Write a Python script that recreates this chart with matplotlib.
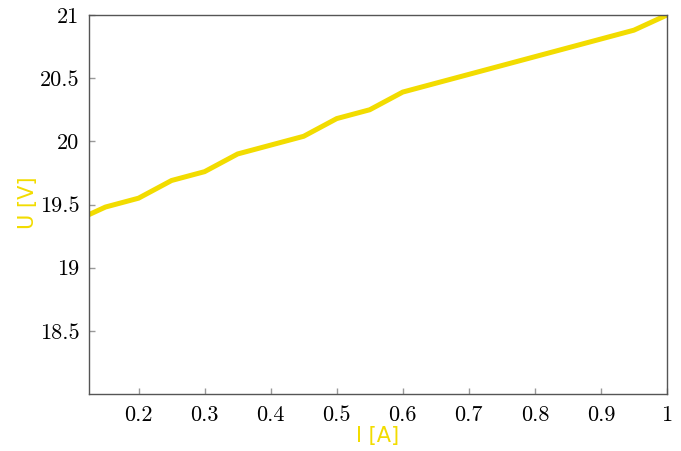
import matplotlib
matplotlib.use("Agg")
import matplotlib.pyplot as plt

current = [0.125, 0.15, 0.2, 0.25, 0.3, 0.35, 0.4, 0.45, 0.5, 0.55, 0.6, 0.65, 0.7, 0.75, 0.8, 0.85, 0.9, 0.95, 1.0]
voltage = [19.42, 19.48, 19.55, 19.69, 19.76, 19.90, 19.97, 20.04, 20.18, 20.25, 20.39, 20.46, 20.53, 20.60, 20.67, 20.74, 20.81, 20.88, 21.0]
xticks = [0.2, 0.3, 0.4, 0.5, 0.6, 0.7, 0.8, 0.9, 1.0]
xticklabels = ["0.2", "0.3", "0.4", "0.5", "0.6", "0.7", "0.8", "0.9", "1"]
yticks = [18.5, 19, 19.5, 20, 20.5, 21]
yticklabels = ["18.5", "19", "19.5", "20", "20.5", "21"]

yellow = "#f2dc00"

fig = plt.figure(figsize=(6.81, 4.51), dpi=100)
ax = fig.add_axes([89/681, 1 - 394/451, (667-89)/681, (394-15)/451])
ax.plot(current, voltage, color=yellow, lw=3.6, solid_joinstyle="miter", clip_on=True)
ax.set_xlim(0.125, 1.0)
ax.set_ylim(18.0, 21.0)
ax.set_xticks(xticks)
ax.set_xticklabels(xticklabels, fontfamily="cmr10", fontsize=16)
ax.set_yticks(yticks)
ax.set_yticklabels(yticklabels, fontfamily="cmr10", fontsize=16)
ax.tick_params(axis="x", direction="in", length=4, color="#999999", width=1, pad=8)
ax.tick_params(axis="y", direction="in", length=4, color="#999999", width=1, pad=7)
for s in ax.spines.values():
    s.set_color("#555555")
    s.set_linewidth(1)
fig.text(378/681, 1 - 436/451, "I [A]", color=yellow, fontsize=15, ha="center", va="center", family="DejaVu Sans")
fig.text(28/681, 1 - 203/451, "U [V]", color=yellow, fontsize=15, ha="center", va="center", rotation=90, family="DejaVu Sans")
fig.savefig("out.png", dpi=100)
